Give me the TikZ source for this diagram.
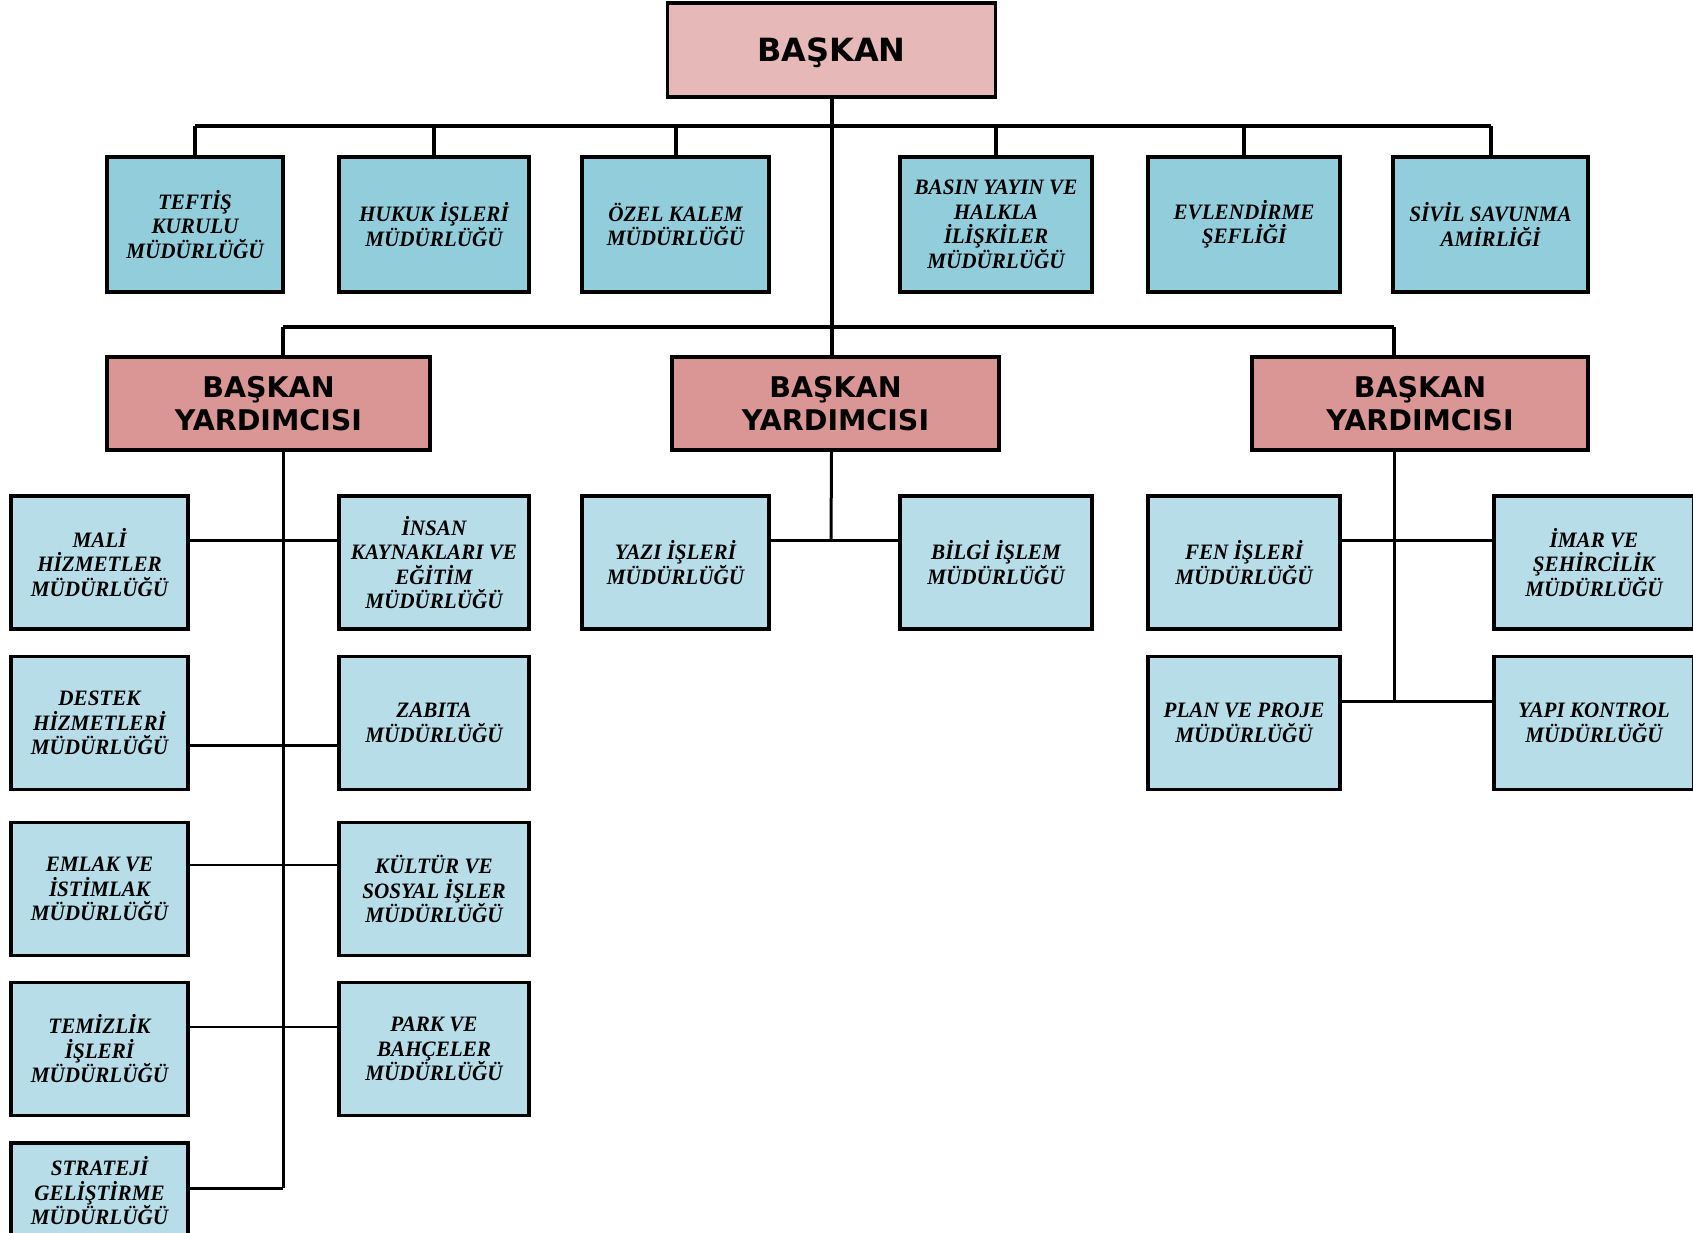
\documentclass[tikz,border=0pt]{standalone}
\usepackage{fontspec}
\setmainfont{Liberation Serif}
\newfontfamily\headfont{DejaVu Sans}
\newfontfamily\unitfont{Liberation Serif}[FakeStretch=0.96]
\definecolor{chiefpink}{HTML}{E6B8B7}
\definecolor{deputypink}{HTML}{D99694}
\definecolor{unitblue}{HTML}{92CDDC}
\definecolor{subblue}{HTML}{B7DEE8}
\tikzset{
  wh/.style 2 args={minimum width=#1,minimum height=#2},
  unit/.style={draw,line width=3.5pt,fill=unitblue,align=center,inner sep=0pt,
    font={\unitfont\bfseries\itshape\fontsize{22}{24.5}\selectfont}},
  subunit/.style={unit,fill=subblue},
  chief/.style={draw,line width=3.5pt,fill=chiefpink,align=center,inner sep=0pt,text depth=0pt,
    font={\headfont\bfseries\fontsize{32}{38}\selectfont}},
  deputy/.style={chief,fill=deputypink,font={\headfont\bfseries\fontsize{28.5}{32.5}\selectfont}},
  bus/.style={line width=4pt},
  link/.style={line width=3pt},
  fine/.style={line width=1.8pt}
}
\begin{document}
\begin{tikzpicture}[x=1pt,y=-1pt]
\useasboundingbox (0,0) rectangle (1693,1232);

\node[chief,wh={328}{94}] (top) at (831.5,50) {BAŞKAN};

\node[unit,wh={176}{135}] (teftis) at (195,224.5) {TEFTİŞ\\KURULU\\MÜDÜRLÜĞÜ};
\node[unit,wh={190}{135}] (hukuk) at (434,224.5) {HUKUK İŞLERİ\\MÜDÜRLÜĞÜ};
\node[unit,wh={187}{135}] (ozel) at (675.5,224.5) {ÖZEL KALEM\\MÜDÜRLÜĞÜ};
\node[unit,wh={192}{135}] (basin) at (996,224.5) {BASIN YAYIN VE\\HALKLA\\İLİŞKİLER\\MÜDÜRLÜĞÜ};
\node[unit,wh={192}{135}] (evlen) at (1244,224.5) {EVLENDİRME\\ŞEFLİĞİ};
\node[unit,wh={195}{135}] (sivil) at (1490.5,224.5) {SİVİL SAVUNMA\\AMİRLİĞİ};

\node[deputy,wh={323}{93}] (vpa) at (268.5,403.5) {BAŞKAN\\YARDIMCISI};
\node[deputy,wh={327}{93}] (vpb) at (835.5,403.5) {BAŞKAN\\YARDIMCISI};
\node[deputy,wh={336}{93}] (vpc) at (1420,403.5) {BAŞKAN\\YARDIMCISI};

\node[subunit,wh={177}{133}] (mali) at (99.5,562.5) {MALİ\\HİZMETLER\\MÜDÜRLÜĞÜ};
\node[subunit,wh={190}{133}] (insan) at (434,562.5) {İNSAN\\KAYNAKLARI VE\\EĞİTİM\\MÜDÜRLÜĞÜ};
\node[subunit,wh={177}{133}] (destek) at (99.5,723) {DESTEK\\HİZMETLERİ\\MÜDÜRLÜĞÜ};
\node[subunit,wh={190}{133}] (zabita) at (434,723) {ZABITA\\MÜDÜRLÜĞÜ};
\node[subunit,wh={177}{133}] (emlak) at (99.5,889) {EMLAK VE\\İSTİMLAK\\MÜDÜRLÜĞÜ};
\node[subunit,wh={190}{133}] (kultur) at (434,889) {KÜLTÜR VE\\SOSYAL İŞLER\\MÜDÜRLÜĞÜ};
\node[subunit,wh={177}{133}] (temizlik) at (99.5,1049) {TEMİZLİK\\İŞLERİ\\MÜDÜRLÜĞÜ};
\node[subunit,wh={190}{133}] (park) at (434,1049) {PARK VE\\BAHÇELER\\MÜDÜRLÜĞÜ};
\node[subunit,wh={177}{96}] (strateji) at (99.5,1191) {STRATEJİ\\GELİŞTİRME\\MÜDÜRLÜĞÜ};

\node[subunit,wh={187}{133}] (yazi) at (675.5,562.5) {YAZI İŞLERİ\\MÜDÜRLÜĞÜ};
\node[subunit,wh={192}{133}] (bilgi) at (996,562.5) {BİLGİ İŞLEM\\MÜDÜRLÜĞÜ};

\node[subunit,wh={192}{133}] (fen) at (1244,562.5) {FEN İŞLERİ\\MÜDÜRLÜĞÜ};
\node[subunit,wh={200}{133}] (imar) at (1594,562.5) {İMAR VE\\ŞEHİRCİLİK\\MÜDÜRLÜĞÜ};
\node[subunit,wh={192}{133}] (plan) at (1244,723) {PLAN VE PROJE\\MÜDÜRLÜĞÜ};
\node[subunit,wh={200}{133}] (yapi) at (1594,723) {YAPI KONTROL\\MÜDÜRLÜĞÜ};

\coordinate (hub) at (831,126);
\coordinate (lta) at (283,327);
\coordinate (ltc) at (1394,327);
\coordinate (ja) at (283,540);
\coordinate (jb) at (283,745);
\coordinate (jc) at (283,865);
\coordinate (jd) at (283,1027);
\coordinate (je) at (283,1188);
\coordinate (jm) at (831,540);
\coordinate (jr) at (1394,540);
\coordinate (js) at (1394,701);

\draw[bus] (top.south) -- (top.south |- vpb.north);
\draw[bus] (teftis.north |- hub) -- (sivil.north |- hub);
\foreach \u in {teftis,hukuk,ozel,basin,evlen,sivil}
  \draw[bus] (\u.north) -- (\u.north |- hub);
\draw[bus] (lta) -- (ltc);
\draw[bus] (lta) -- (lta |- vpa.north);
\draw[bus] (ltc) -- (ltc |- vpc.north);

\draw[link] (lta |- vpa.south) -- (je);
\draw[link] (mali.east |- ja) -- (insan.west |- ja);
\draw[link] (destek.east |- jb) -- (zabita.west |- jb);
\draw[fine] (emlak.east |- jc) -- (kultur.west |- jc);
\draw[fine] (temizlik.east |- jd) -- (park.west |- jd);
\draw[link] (strateji.east |- je) -- (je);

\draw[link] (top.south |- vpb.south) -- (jm);
\draw[link] (yazi.east |- jm) -- (bilgi.west |- jm);

\draw[link] (ltc |- vpc.south) -- (js);
\draw[link] (fen.east |- jr) -- (imar.west |- jr);
\draw[link] (plan.east |- js) -- (yapi.west |- js);
\end{tikzpicture}
\end{document}
